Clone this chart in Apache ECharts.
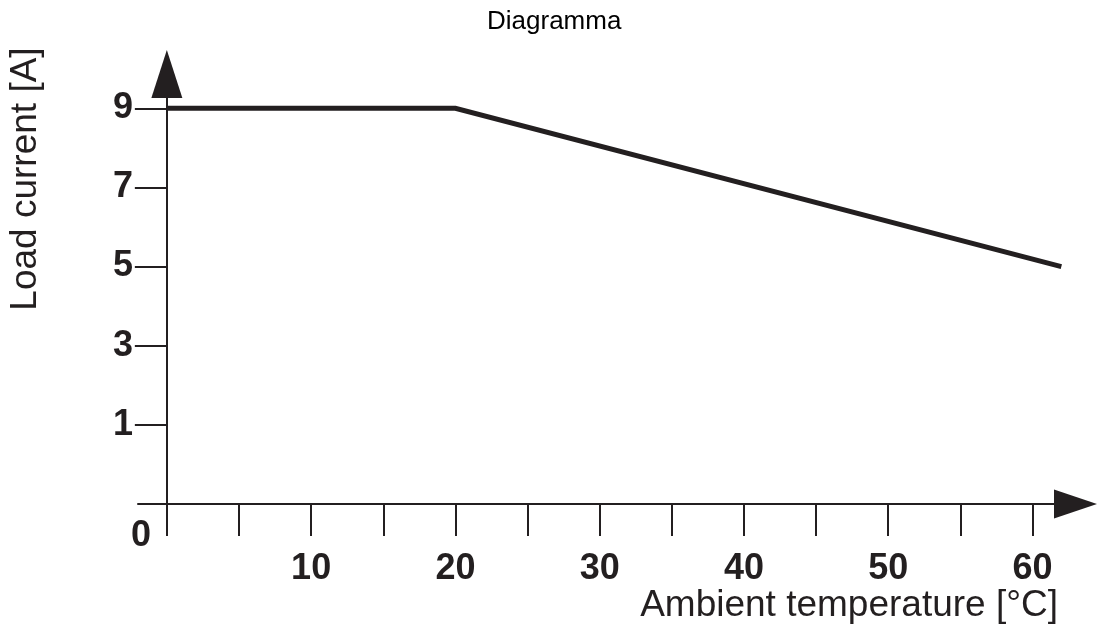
<!DOCTYPE html>
<html>
<head>
<meta charset="utf-8">
<script src="https://cdn.jsdelivr.net/npm/echarts@6/dist/echarts.min.js"></script>
<style>
  html, body { margin: 0; padding: 0; background: #fff; }
  #chart { width: 1099px; height: 638px; }
</style>
</head>
<body>
<div id="chart"></div>
<script>
// ---- data ----
const titleText = 'Diagramma';
const xAxisName = 'Ambient temperature [°C]';
const yAxisName = 'Load current [A]';
const temperature = [0, 20, 62];
const loadCurrent = [9, 9, 5];
const xTickValues = [0, 5, 10, 15, 20, 25, 30, 35, 40, 45, 50, 55, 60];
const xLabelValues = [10, 20, 30, 40, 50, 60];
const yTickValues = [1, 3, 5, 7, 9];
const originLabel = '0';

// ---- styling ----
const ink = '#231f20';
const fontFamily = '"Liberation Sans", Arial, Helvetica, sans-serif';

const seriesData = temperature.map((t, i) => [t, loadCurrent[i]]);

const chart = echarts.init(document.getElementById('chart'), null, { renderer: 'canvas' });

chart.setOption({
  animation: false,
  backgroundColor: '#ffffff',
  title: {
    text: titleText,
    left: 482,
    top: 4,
    textStyle: { fontFamily: fontFamily, fontSize: 26, fontWeight: 'normal', color: '#000' }
  },
  grid: { left: 138, right: 29, top: 98, bottom: 134, containLabel: false },
  xAxis: {
    type: 'value',
    min: -2,
    max: 62.6,
    splitLine: { show: false },
    axisLine: {
      show: true,
      onZero: false,
      symbol: ['none', 'triangle'],
      symbolSize: [29, 43],
      symbolOffset: [0, 5.5],
      lineStyle: { color: ink, width: 2 }
    },
    axisTick: {
      show: true,
      inside: false,
      length: 32,
      customValues: xTickValues,
      lineStyle: { color: ink, width: 2 }
    },
    axisLabel: {
      show: true,
      customValues: xLabelValues,
      margin: 47,
      color: ink,
      fontFamily: fontFamily,
      fontSize: 36,
      fontWeight: 'bold'
    }
  },
  yAxis: {
    type: 'value',
    min: -1,
    max: 9.26,
    splitLine: { show: false },
    axisLine: {
      show: true,
      onZero: true,
      symbol: ['none', 'triangle'],
      symbolSize: [31, 48],
      symbolOffset: [0, 24],
      lineStyle: { color: ink, width: 2 }
    },
    axisTick: {
      show: true,
      inside: false,
      length: 32,
      customValues: yTickValues,
      lineStyle: { color: ink, width: 2 }
    },
    axisLabel: {
      show: true,
      customValues: yTickValues,
      margin: 5,
      color: ink,
      fontFamily: fontFamily,
      fontSize: 36,
      fontWeight: 'bold'
    }
  },
  graphic: [
    {
      type: 'text',
      x: 26,
      y: 179,
      rotation: Math.PI / 2,
      style: {
        text: yAxisName,
        fill: ink,
        font: '37px ' + fontFamily,
        align: 'center',
        verticalAlign: 'middle'
      }
    },
    {
      type: 'text',
      x: 1058,
      y: 606,
      style: {
        text: xAxisName,
        fill: ink,
        font: '37px ' + fontFamily,
        align: 'right',
        verticalAlign: 'middle'
      }
    },
    {
      type: 'text',
      x: 141,
      y: 536,
      style: {
        text: originLabel,
        fill: ink,
        font: 'bold 36px ' + fontFamily,
        align: 'center',
        verticalAlign: 'middle'
      }
    }
  ],
  series: [
    {
      type: 'line',
      data: seriesData,
      showSymbol: false,
      symbol: 'none',
      clip: false,
      lineStyle: { color: ink, width: 5, join: 'miter' },
      z: 5
    }
  ]
});
</script>
</body>
</html>
